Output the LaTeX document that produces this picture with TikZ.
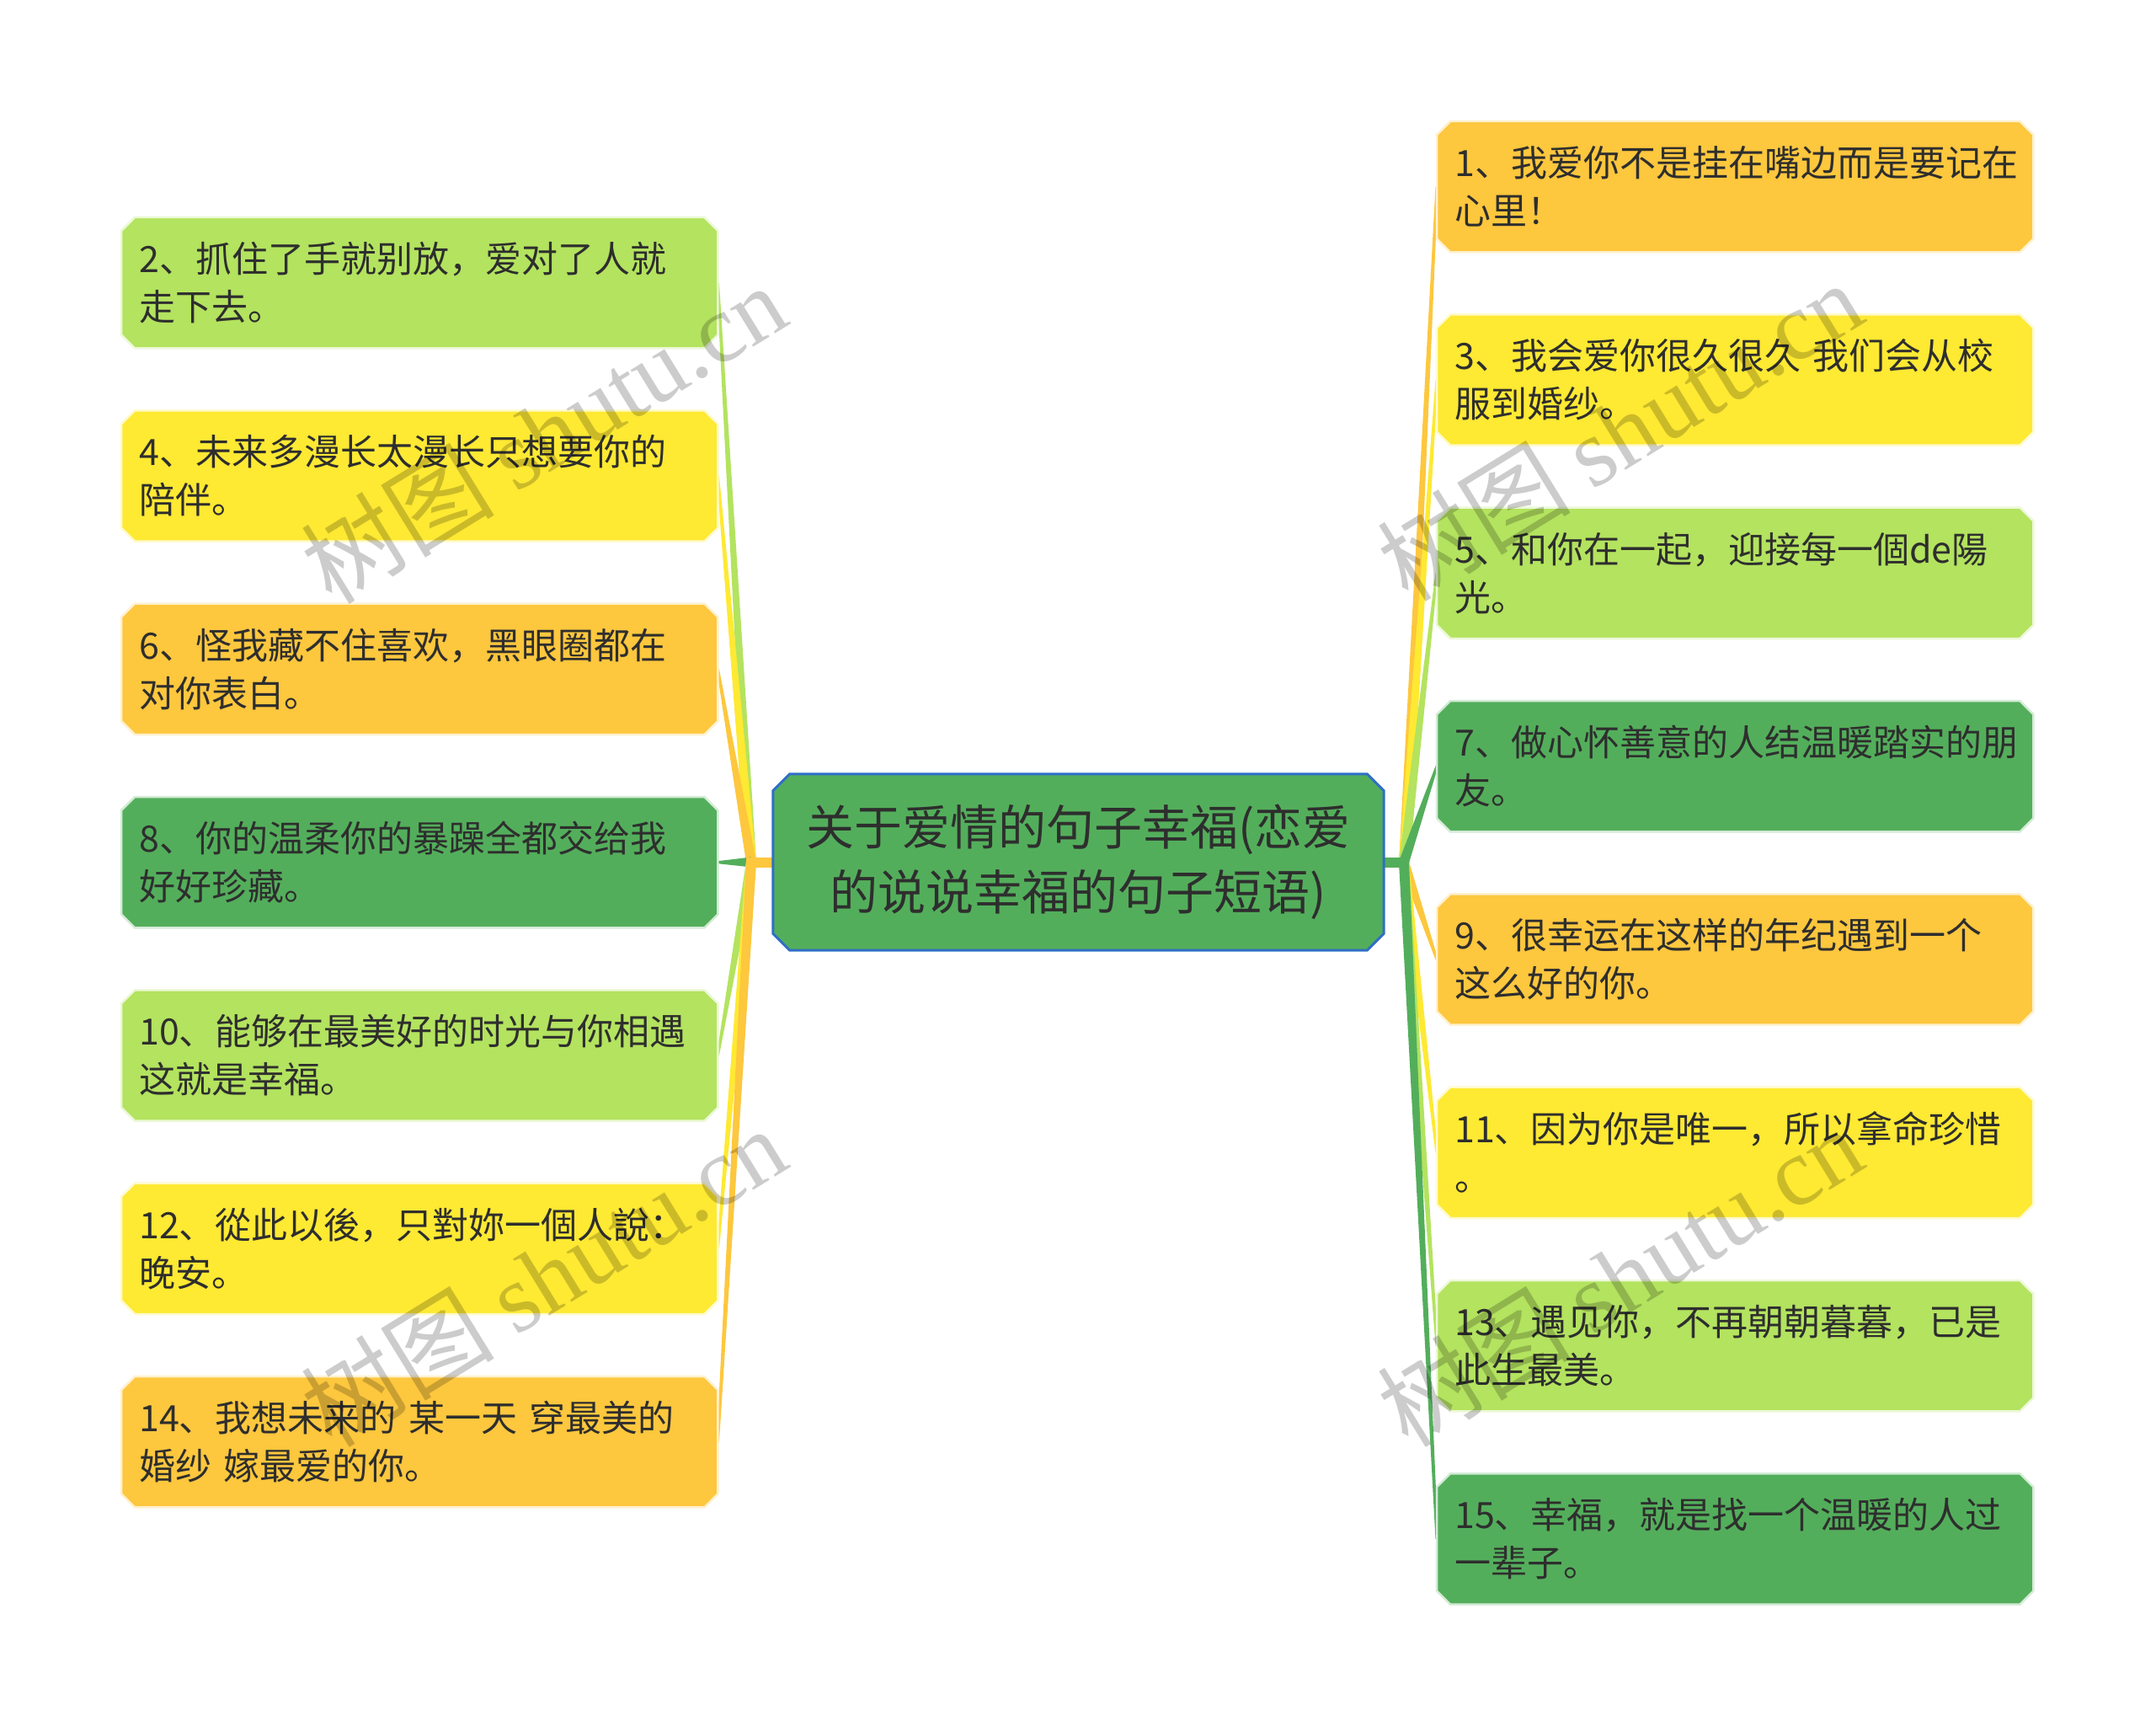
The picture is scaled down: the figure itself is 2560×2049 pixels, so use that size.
\documentclass[tikz,border=0pt]{standalone}
\usepackage{fontspec}
\setmainfont{Noto Sans CJK SC}
\newfontfamily\cjkf{Noto Sans CJK SC}
\newfontfamily\wmfont{Liberation Serif}
\usetikzlibrary{calc,backgrounds}
\definecolor{corange}{HTML}{FDC73E}
\definecolor{cyellow}{HTML}{FEE933}
\definecolor{clgreen}{HTML}{B3E35F}
\definecolor{cgreen}{HTML}{53AE5B}
\definecolor{cblue}{HTML}{2F6FC6}
\definecolor{ctext}{HTML}{2E2E2E}
\newcommand\mychamf[3]{%
  \path[#2] ([xshift=#3]#1.north west) -- ([xshift=-#3]#1.north east) -- ([yshift=-#3]#1.north east) -- ([yshift=#3]#1.south east) -- ([xshift=-#3]#1.south east) -- ([xshift=#3]#1.south west) -- ([yshift=#3]#1.south west) -- ([yshift=-#3]#1.north west) -- cycle;}
\newcommand\mywedge[3]{%
  \fill[#3] ($(#1)!6pt!90:(#2)$) -- ($(#2)!1.5pt!-90:(#1)$) -- ($(#2)!1.5pt!90:(#1)$) -- ($(#1)!6pt!-90:(#2)$) -- cycle;}
\tikzset{
  x=1pt, y=-1pt,
  leaf/.style={anchor=north west, minimum width=708pt, minimum height=155pt, inner xsep=21pt, inner ysep=0pt,
    text width=666pt, align=left, text=ctext, font=\fontsize{43}{57}\selectfont},
  root/.style={minimum width=725pt, minimum height=209pt, inner sep=0pt, text width=700pt, align=center,
    text=ctext, font=\fontsize{57}{77}\selectfont},
  wm/.style={rotate=31.6, text=black, text opacity=0.2, font=\fontsize{115}{115}\selectfont, inner sep=0pt}
}
\begin{document}
\begin{tikzpicture}
\useasboundingbox (0,0) rectangle (2560,2049);
% root
\node[root] (c) at (1280.5,1023.5) {关于爱情的句子幸福(恋爱\\的说说幸福的句子短语)};
\coordinate (tl) at (892,1023.5);
\coordinate (tr) at (1667,1023.5);
% left leaves
\node[leaf] (b2)  at (144,258)    {2、抓住了手就别放，爱对了人就\\走下去。};
\node[leaf] (b4)  at (144,487.3)  {4、未来多漫长太漫长只想要你的\\陪伴。};
\node[leaf] (b6)  at (144,716.6)  {6、怪我藏不住喜欢，黑眼圈都在\\对你表白。};
\node[leaf] (b8)  at (144,946)    {8、你的温柔你的暴躁全都交给我\\好好珍藏。};
\node[leaf] (b10) at (144,1175.3) {10、能够在最美好的时光与你相遇\\这就是幸福。};
\node[leaf] (b12) at (144,1404.6) {12、從此以後，只對妳一個人說：\\晚安。};
\node[leaf] (b14) at (144,1634)   {14、我想未来的 某一天 穿最美的\\婚纱 嫁最爱的你。};
% right leaves
\node[leaf] (b1)  at (1706,144)    {1、我爱你不是挂在嘴边而是要记在\\心里！};
\node[leaf] (b3)  at (1706,373.3)  {3、我会爱你很久很久 我们会从校\\服到婚纱。};
\node[leaf] (b5)  at (1706,602.6)  {5、和你在一起，迎接每一個de陽\\光。};
\node[leaf] (b7)  at (1706,832)    {7、做心怀善意的人结温暖踏实的朋\\友。};
\node[leaf] (b9)  at (1706,1061.3) {9、很幸运在这样的年纪遇到一个\\这么好的你。};
\node[leaf] (b11) at (1706,1290.6) {11、因为你是唯一，所以拿命珍惜\\。};
\node[leaf] (b13) at (1706,1520)   {13、遇见你，不再朝朝暮暮，已是\\此生最美。};
\node[leaf] (b15) at (1706,1749.3) {15、幸福，就是找一个温暖的人过\\一辈子。};
\begin{scope}[on background layer]
  \fill[white] (0,0) rectangle (2560,2049);
  % connectors left
  \mywedge{tl}{b2.east}{clgreen}
  \mywedge{tl}{b4.east}{cyellow}
  \mywedge{tl}{b6.east}{corange}
  \mywedge{tl}{b8.east}{cgreen}
  \mywedge{tl}{b10.east}{clgreen}
  \mywedge{tl}{b12.east}{cyellow}
  \mywedge{tl}{b14.east}{corange}
  \draw[corange, line width=12pt] (c.west) -- ([xshift=-6pt]tl);
  % connectors right
  \mywedge{tr}{b1.west}{corange}
  \mywedge{tr}{b3.west}{cyellow}
  \mywedge{tr}{b5.west}{clgreen}
  \mywedge{tr}{b7.west}{cgreen}
  \mywedge{tr}{b9.west}{corange}
  \mywedge{tr}{b11.west}{cyellow}
  \mywedge{tr}{b13.west}{clgreen}
  \mywedge{tr}{b15.west}{cgreen}
  \draw[cgreen, line width=12pt] (c.east) -- ([xshift=6pt]tr);
  % boxes
  \mychamf{c}{fill=cgreen, draw=cblue, line width=3pt}{20pt}
  \mychamf{b2}{fill=clgreen, draw=clgreen!25!white, line width=2.5pt}{16pt}
  \mychamf{b4}{fill=cyellow, draw=cyellow!25!white, line width=2.5pt}{16pt}
  \mychamf{b6}{fill=corange, draw=corange!25!white, line width=2.5pt}{16pt}
  \mychamf{b8}{fill=cgreen, draw=cgreen!25!white, line width=2.5pt}{16pt}
  \mychamf{b10}{fill=clgreen, draw=clgreen!25!white, line width=2.5pt}{16pt}
  \mychamf{b12}{fill=cyellow, draw=cyellow!25!white, line width=2.5pt}{16pt}
  \mychamf{b14}{fill=corange, draw=corange!25!white, line width=2.5pt}{16pt}
  \mychamf{b1}{fill=corange, draw=corange!25!white, line width=2.5pt}{16pt}
  \mychamf{b3}{fill=cyellow, draw=cyellow!25!white, line width=2.5pt}{16pt}
  \mychamf{b5}{fill=clgreen, draw=clgreen!25!white, line width=2.5pt}{16pt}
  \mychamf{b7}{fill=cgreen, draw=cgreen!25!white, line width=2.5pt}{16pt}
  \mychamf{b9}{fill=corange, draw=corange!25!white, line width=2.5pt}{16pt}
  \mychamf{b11}{fill=cyellow, draw=cyellow!25!white, line width=2.5pt}{16pt}
  \mychamf{b13}{fill=clgreen, draw=clgreen!25!white, line width=2.5pt}{16pt}
  \mychamf{b15}{fill=cgreen, draw=cgreen!25!white, line width=2.5pt}{16pt}
\end{scope}
% watermarks
\node[wm] (w1) at (645,514)   {树图 {\wmfont shutu.cn}};
\node[wm] (w2) at (1923,511)  {树图 {\wmfont shutu.cn}};
\node[wm] (w3) at (645,1515)  {树图 {\wmfont shutu.cn}};
\node[wm] (w4) at (1923,1515) {树图 {\wmfont shutu.cn}};
\end{tikzpicture}
\end{document}
